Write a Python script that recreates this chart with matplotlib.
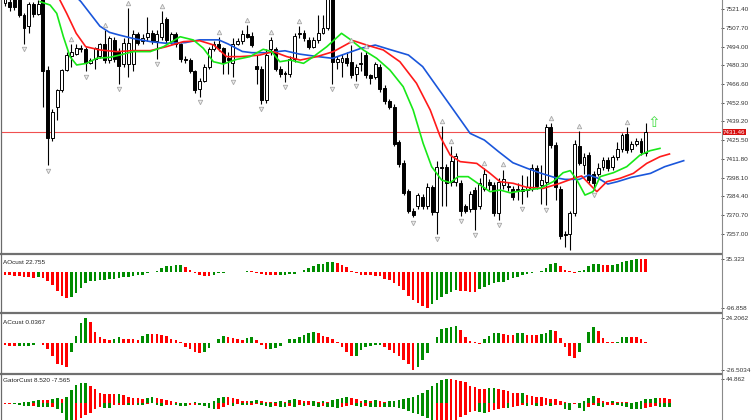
import numpy as np
import matplotlib.pyplot as plt
from matplotlib.lines import Line2D
from matplotlib.transforms import offset_copy

plt.rcParams['font.family'] = ['Liberation Sans', 'DejaVu Sans']

# ---- candles ----
opens = [7526, 7527, 7532, 7530, 7517, 7509, 7525, 7518, 7530, 7477,
         7427, 7450, 7462, 7477, 7487, 7489, 7493, 7492, 7482, 7485,
         7487, 7496, 7484, 7499, 7491, 7481, 7481, 7481, 7503, 7498,
         7501, 7504, 7498, 7501, 7514, 7498, 7503, 7496, 7485, 7484,
         7476, 7463, 7469, 7479, 7492, 7496, 7493, 7486, 7482, 7496,
         7498, 7503, 7502, 7480, 7478, 7455, 7492, 7492, 7478, 7475,
         7474, 7485, 7503, 7504, 7499, 7494, 7499, 7504, 7508, 7530,
         7483, 7483, 7486, 7483, 7474, 7481, 7488, 7473, 7472, 7479,
         7464, 7454, 7450, 7424, 7409, 7388, 7374, 7377, 7384, 7377,
         7391, 7373, 7406, 7406, 7395, 7395, 7394, 7377, 7375, 7389,
         7377, 7390, 7395, 7393, 7372, 7393, 7392, 7390, 7389, 7388,
         7389, 7390, 7405, 7393, 7395, 7435, 7422, 7390, 7357, 7357,
         7372, 7421, 7407, 7415, 7401, 7401, 7406, 7411, 7406, 7413,
         7419, 7430, 7419, 7423, 7425, 7416]
highs = [7536, 7530, 7536, 7534, 7519, 7527, 7527, 7528, 7534, 7480,
         7448, 7463, 7478, 7490, 7496, 7496, 7495, 7494, 7486, 7494,
         7497, 7506, 7502, 7501, 7493, 7500, 7522, 7506, 7505, 7503,
         7516, 7506, 7506, 7520, 7516, 7505, 7505, 7497, 7487, 7486,
         7477, 7471, 7481, 7494, 7498, 7501, 7494, 7490, 7500, 7500,
         7506, 7510, 7505, 7488, 7480, 7492, 7501, 7494, 7480, 7476,
         7487, 7504, 7509, 7506, 7501, 7501, 7517, 7517, 7535, 7535,
         7487, 7489, 7490, 7495, 7481, 7490, 7491, 7474, 7483, 7481,
         7466, 7456, 7452, 7426, 7411, 7390, 7376, 7387, 7386, 7394,
         7393, 7410, 7436, 7408, 7421, 7416, 7396, 7379, 7388, 7391,
         7398, 7405, 7397, 7395, 7398, 7404, 7395, 7392, 7394, 7400,
         7399, 7408, 7407, 7407, 7437, 7438, 7424, 7392, 7359, 7374,
         7426, 7432, 7416, 7417, 7403, 7409, 7413, 7413, 7415, 7424,
         7431, 7435, 7425, 7427, 7427, 7438]
lows = [7524, 7520, 7521, 7516, 7496, 7504, 7516, 7517, 7450, 7407,
        7425, 7440, 7461, 7476, 7479, 7488, 7490, 7476, 7481, 7478,
        7486, 7482, 7482, 7483, 7467, 7479, 7472, 7476, 7495, 7496,
        7498, 7496, 7485, 7499, 7497, 7496, 7494, 7483, 7482, 7475,
        7460, 7457, 7468, 7478, 7491, 7491, 7474, 7474, 7472, 7495,
        7496, 7500, 7494, 7467, 7452, 7453, 7488, 7476, 7472, 7468,
        7472, 7483, 7500, 7498, 7492, 7493, 7497, 7503, 7506, 7467,
        7478, 7472, 7480, 7471, 7469, 7476, 7471, 7467, 7470, 7461,
        7452, 7448, 7421, 7406, 7385, 7372, 7369, 7375, 7375, 7375,
        7371, 7357, 7377, 7377, 7392, 7392, 7370, 7372, 7373, 7360,
        7375, 7388, 7389, 7370, 7367, 7390, 7388, 7382, 7382, 7379,
        7384, 7388, 7390, 7379, 7378, 7420, 7382, 7353, 7347, 7345,
        7370, 7407, 7401, 7394, 7389, 7399, 7404, 7403, 7404, 7411,
        7417, 7416, 7417, 7421, 7415, 7414]
closes = [7531, 7523, 7523, 7517, 7508, 7525, 7518, 7525, 7476, 7427,
          7446, 7462, 7477, 7488, 7490, 7493, 7492, 7482, 7484, 7493,
          7496, 7484, 7500, 7485, 7480, 7497, 7497, 7503, 7497, 7500,
          7504, 7498, 7503, 7511, 7499, 7503, 7496, 7485, 7484, 7476,
          7462, 7469, 7479, 7492, 7496, 7493, 7482, 7484, 7496, 7498,
          7503, 7501, 7495, 7478, 7455, 7488, 7499, 7478, 7474, 7474,
          7485, 7502, 7504, 7500, 7494, 7499, 7504, 7508, 7530, 7483,
          7485, 7486, 7482, 7473, 7479, 7482, 7473, 7471, 7481, 7463,
          7454, 7450, 7423, 7408, 7387, 7374, 7371, 7385, 7377, 7391,
          7373, 7406, 7405, 7394, 7410, 7414, 7374, 7374, 7386, 7375,
          7394, 7401, 7393, 7372, 7395, 7397, 7391, 7384, 7389.5, 7390,
          7391, 7405, 7392, 7396, 7435, 7422, 7391, 7355, 7356, 7372,
          7423, 7409, 7413, 7396, 7394, 7405, 7411, 7405, 7413, 7419,
          7429, 7418, 7423, 7425, 7417, 7431.46]
last_price = 7431.46

fractal_up = [14, 21, 26, 33, 45, 51, 56, 62, 73, 76, 92, 94, 101, 105, 115, 121, 131]
fractal_down = [4, 9, 17, 24, 32, 41, 48, 54, 59, 69, 74, 86, 91, 96, 99, 104, 109, 114, 124]

# ---- alligator lines (bar position, price) ----
jaw_bar = [14, 16, 18, 20, 22, 24, 27, 31, 34, 38, 41, 45, 47, 50, 52, 55, 59, 62, 66, 69,
           71, 75, 78, 81, 85, 88, 91, 94, 96, 98, 101, 104, 107, 110, 113, 116, 118, 121,
           123, 125, 127, 129, 132, 136, 139, 143]
jaw_val = [7534, 7527, 7518, 7509, 7504.5, 7502.6, 7500, 7497.5, 7496.5, 7497, 7499, 7499,
           7496, 7490.5, 7489.6, 7489.6, 7491, 7488.6, 7486.7, 7485.5, 7487.9, 7492.8, 7495.2,
           7492, 7487.9, 7479.4, 7464.7, 7450.1, 7440.3, 7430.5, 7425.6, 7417.1, 7409, 7404.9,
           7401.2, 7398, 7396.8, 7396.8, 7400, 7397.6, 7393.4, 7395.1, 7398.3, 7401.2, 7406.1,
           7410.5]
teeth_bar = [11, 13, 15, 17, 20, 23.5, 27, 30.6, 34, 37.6, 41, 44, 46.7, 49.5, 51.6, 53.7,
             56.5, 59.4, 62.2, 65.7, 69.2, 73.4, 76.2, 79.7, 83.2, 86.7, 89.6, 91.7, 93.8,
             95.9, 99.4, 102.2, 104.3, 107.1, 109.9, 113.4, 116.9, 119.8, 121.5, 123.3,
             124.7, 126.8, 129.6, 132.4, 135.2, 138, 140]
teeth_val = [7532, 7518.4, 7503.8, 7494, 7491.6, 7490.4, 7491.1, 7491.1, 7494, 7497.7, 7498.4,
             7495.2, 7486.7, 7486.7, 7487.2, 7487.9, 7490.4, 7486.7, 7484.2, 7486.7, 7490.4,
             7498.4, 7495.2, 7491.6, 7483, 7467.2, 7447.6, 7428.1, 7414.6, 7409.8, 7408.5,
             7401.2, 7395.1, 7393.9, 7391, 7390.2, 7393.9, 7397.6, 7399.3, 7392.7, 7387.8,
             7395.1, 7397.6, 7401.2, 7408.5, 7413.4, 7415.4]
lips_bar = [7.4, 9.5, 10.9, 12.3, 13.7, 15.1, 17.2, 19.3, 22.1, 24.2, 27, 30.6, 33.4, 36.9,
            39.7, 41.8, 43.9, 46, 48.8, 51.6, 54.4, 56.2, 57.9, 60.1, 62.9, 65, 67.8, 70.9,
            72.7, 75.5, 78.3, 81.1, 83.9, 86, 88.1, 89.9, 92, 93.8, 95.5, 97.6, 100.1, 102.2,
            104.3, 106.4, 109.9, 112.7, 115.5, 117.6, 119.1, 120.5, 122.2, 123.9, 125.4,
            128.2, 131, 133.8, 135.9, 138]
lips_val = [7527, 7524.5, 7518.4, 7501.3, 7486.7, 7480.6, 7481.8, 7485.5, 7486.2, 7487.9,
            7490.4, 7490.4, 7494, 7501.3, 7498.9, 7492.8, 7483, 7481.3, 7484.7, 7486.7,
            7492.1, 7490.4, 7483, 7484.2, 7481.8, 7486.7, 7494, 7503.8, 7499.4, 7491.6,
            7485.5, 7476.9, 7464.7, 7447.6, 7423.2, 7406.1, 7396.3, 7394.4, 7398.8, 7398.8,
            7392.7, 7387.8, 7389, 7387, 7389, 7390.2, 7395.1, 7401.7, 7403.2, 7396.3,
            7385.3, 7387.8, 7398.8, 7401.7, 7406.1, 7414.6, 7417.8, 7419.5]

# ---- oscillators ----
ao_vals = [-8, -9, -10, -11, -12.5, -14, -16, -14, -16, -25, -34, -50, -63, -69, -67, -55,
           -42, -30, -25, -23.5, -22.5, -21, -20, -19, -16.5, -14, -12.5, -10.5, -9, -8,
           -2.5, -0.8, 1.5, 9, 14.5, 16, 16.8, 17.5,
           11.5, 4, -4, -8, -9.8, -10.2, -7.5, -4, -2.2, -1.5, -1, -0.5, 0.5, 3.5,
           2.5, -3.9, -6.5, -8, -9, -9.5, -8, -7.5, -6.5, -5.5, -0.5, 4.5, 11, 16.5, 20,
           21.5, 25, 27, 23.5, 17.5, 11.5, 3, -4, -7.5, -9, -9.5, -10,
           -11, -19, -22.5, -29, -38, -49, -63, -76, -84, -90, -96.8, -86, -76, -66, -59,
           -53, -48, -50, -52, -52.5, -53, -46, -40.5, -35, -30, -27.5, -26, -22, -17, -13,
           -9.5, -6.5, -4, -0.5, 2, 9.5, 20, 23, 16.5, 6, 1, -2, 2, 5, 15, 20, 21, 18.5,
           17.5, 18.5, 20.5, 25, 29, 32, 35.3, 34.6, 33.5]
ac_vals = [-2.5, -3.1, -3.4, -3.3, -3.2, -3.0, -2.5, -0.5, -2.5, -6.4, -13.2, -20.4, -22,
           -23.7, -9.0, 6.4, 18.8, 24.2, 19.4, 10.6, 5.1, 3.1, 2.5, 3.1, 5.7, 3.8, 3.1, 3.0,
           2.8, 6.4, 8.3, 8.2, 8.0, 7.7, 6.4, 3.8, 2.5, 0.2, -4.1, -6.7, -9.0, -10.6,
           -9.0, -5.7, -0.8, 3.1, 6.4, 5.1, 4.1, 3.1, 2.5, 4.1, 5.1, 2.5, -2.5, -6.7,
           -6.5, -5.7, -3.4, -0.2, 3.1, 3.8, 5.7, 7.4, 9.6, 10.6, 9.0, 6.4, 5.7, 3.1, 0.5,
           -4.1, -9.0, -13.2, -13.0, -7.4, -4.1, -3.4, -2.5,
           -2.3, -4.1, -7.4, -10.0, -13.2, -17.2, -20.4, -26.5, -23.7, -17.2, -10.0, -0.2,
           5.1, 12.9, 14.5, 15.5, 15.6, 12.3, 5.1, 1.8, 0.3, -1.8, 3.1, 6.4, 9.0, 9.1, 8.0,
           7.4, 7.2, 9.0, 9.1, 7.4, 7.0, 6.9, 8.0, 9.0, 12.3, 11.6, 4.1, -4.1, -13.2, -15.5,
           -9.0, -0.5, 10.6, 14.9, 11.6, 4.1, 0.5, 0.2, 0.6, 5.1, 5.7, 5.6, 5.1, 3.1, 0.0367]
gator_up = [1.3, 0.8, 0.5, 1.2, 1.9, 3.1, 5.0, 6.2, 6.1, 6.0, 7.5, 9.3, 7.5, 12.4, 24.9,
            34.2, 37.3, 37.9, 32.3, 26.1, 19.9, 17.4, 16.8, 16.7, 17.4, 14.9, 12.4, 10.6,
            9.3, 8.1, 9.9, 11.2, 9.3, 7.5, 6.2, 5.0, 3.1, 1.2, 0.6, 1.2, 2.5, 1.2, 0.3, 1.2,
            5.0, 9.3, 12.4, 11.2, 9.3, 7.5, 5.0, 3.7, 5.0, 6.2, 5.0, 3.1, 3.0, 3.1, 4.3, 3.1,
            6.2, 7.5, 6.2, 5.0, 3.7, 5.0, 3.1, 5.0, 3.1, 6.2, 7.5, 9.3, 11.2, 9.3, 7.5, 5.0,
            6.2, 5.0, 6.2, 5.0,
            3.1, 4.3, 5.0, 6.2, 7.5, 9.3, 12.4, 14.9, 18.7, 24.9, 31.1, 37.3, 42.3, 44.862,
            44.5, 43.5, 40.4, 38.6, 32.3, 29.9, 26.1, 25.9, 27.4, 28.6, 26.1, 24.9, 21.8,
            19.9, 18.7, 19.9, 15.5, 13.7, 12.4, 11.2, 9.9, 8.7, 7.5, 5.0, 3.1, 1.2, 0.3, 1.2,
            5.0, 9.3, 13.7, 9.3, 5.0, 3.1, 4.3, 2.5, 1.9, 1.8, 1.2, 2.5, 5.0, 7.5, 8.7, 9.9,
            9.6, 9.3, 8.52]
gator_down = [-1.2, -1.2, -1.3, -3.7, -5.0, -5.1, -4.5, -6.2, -6.3, -7.5, -7.0, -11.2, -18.7,
              -29.9, -31.1, -30.5, -27.4, -21.8, -18.7, -11.2, -7.5, -8.0, -8.3, -3.1, -3.0,
              -2.9, -3.7, -2.5, -3.1, -3.2, -1.2, -0.3, -3.1, -5.0, -3.7, -3.1, -3.7, -4.3,
              -5.0, -3.7, -2.5, -3.7, -5.0, -9.3, -11.2, -10.8, -7.5, -3.7, -4.3, -1.2, -2.5,
              -3.1, -2.5, -1.9, -3.7, -5.0, -6.2, -5.0, -6.2, -7.5, -5.0, -6.2, -3.7, -5.0,
              -3.1, -5.0, -7.5, -5.0, -6.2, -7.5, -9.3, -7.5, -5.0, -3.1, -5.0, -6.2, -5.0,
              -6.2, -7.5, -6.2,
              -6.3, -7.5, -7.6, -9.3, -11.2, -13.7, -17.4, -19.9, -23.6, -28.0, -31.1, -31.0,
              -30.9, -30.8, -30.7, -30.6, -24.9, -21.8, -15.5, -13.7, -15.5, -17.4, -15.5,
              -12.4, -11.2, -9.3, -9.4, -6.2, -5.0, -3.7, -5.0, -3.7, -5.0, -5.0, -3.7, -5.0,
              -3.7, -2.5, -11.2, -12.4, -1.2, -9.3, -13.7, -6.2, -3.7, -5.0, -6.2, -3.7, -2.5,
              -3.7, -5.0, -7.5, -9.9, -11.2, -11.3, -9.3, -7.5, -5.0, -6.0, -6.8, -7.565]

price_ticks = [7521.40, 7507.70, 7494.00, 7480.30, 7466.60, 7452.90, 7439.20, 7425.50,
               7411.80, 7398.10, 7384.40, 7370.70, 7357.00]

W, H = 752, 420
fig = plt.figure(figsize=(W / 100, H / 100), dpi=100)
XLIM = (-0.632, 150.86)
GREEN, RED = '#008c00', '#ff0000'
FS = 4.6


def px_axes(top, bottom, left=2, right=721):
    ax = fig.add_axes([left / W, 1 - bottom / H, (right - left) / W, (bottom - top) / H])
    ax.set_xlim(*XLIM)
    for s in ('top', 'bottom', 'left', 'right'):
        ax.spines[s].set_visible(False)
    ax.set_xticks([])
    ax.yaxis.tick_right()
    ax.tick_params(axis='y', labelsize=FS, length=2.5, width=0.6, pad=1, colors='#333333')
    return ax


def trend_colors(vals, use_abs=False):
    v = np.abs(vals) if use_abs else np.asarray(vals)
    up = np.r_[False, v[1:] > v[:-1]]
    return np.where(up, GREEN, RED)


# ---- main price window ----
ax = px_axes(0, 252)
ax.set_ylim(7343.6, 7528.2)
o, hi, lo, c = map(np.asarray, (opens, highs, lows, closes))
idx = np.arange(len(o))
bull = c >= o
body_lo = np.minimum(o, c)
body_h = np.maximum(np.abs(c - o), 0.5)
ax.vlines(idx, lo, hi, color='black', lw=0.8, zorder=2)
ax.bar(idx[bull], body_h[bull], bottom=body_lo[bull], width=0.62, color='white',
       edgecolor='black', linewidth=0.7, zorder=3)
ax.bar(idx[~bull], body_h[~bull], bottom=body_lo[~bull], width=0.62, color='black',
       edgecolor='black', linewidth=0.7, zorder=3)

up_tr = offset_copy(ax.transData, fig=fig, y=3.8, units='points')
dn_tr = offset_copy(ax.transData, fig=fig, y=-3.8, units='points')
ax.plot(fractal_up, hi[fractal_up], ls='none', marker='^', ms=3.2, mfc='#eeeeee',
        mec='#a8a8a8', mew=0.6, transform=up_tr, zorder=5)
ax.plot(fractal_down, lo[fractal_down], ls='none', marker='v', ms=3.2, mfc='#eeeeee',
        mec='#a8a8a8', mew=0.6, transform=dn_tr, zorder=5)

ax.plot(jaw_bar, jaw_val, color='#1a56db', lw=1.2, zorder=4, solid_joinstyle='round')
ax.plot(teeth_bar, teeth_val, color='#ff1a1a', lw=1.2, zorder=4, solid_joinstyle='round')
ax.plot(lips_bar, lips_val, color='#18e818', lw=1.2, zorder=4, solid_joinstyle='round')

ax.axhline(last_price, color='#f05050', lw=0.8, zorder=1)
ax.set_yticks(price_ticks)
ax.set_yticklabels([f'{t:.2f}' for t in price_ticks])
ax.text(1.002, last_price, f'{last_price:.2f}', transform=ax.get_yaxis_transform(),
        fontsize=4.4, color='white', va='center', ha='left', clip_on=False, zorder=10,
        bbox=dict(facecolor='#d81010', edgecolor='none', pad=0.6))
ax.text(136.8, 7438.5, '\u21e7', color='#44dd44', fontsize=11, ha='center', va='center',
        family='DejaVu Sans', zorder=6)

# ---- AO ----
ax_ao = px_axes(256, 311)
ax_ao.set_ylim(-104, 42)
ax_ao.bar(np.arange(len(ao_vals)), ao_vals, width=0.55, color=trend_colors(ao_vals))
ax_ao.set_yticks([35.323, -96.858])
ax_ao.set_yticklabels(['35.323', '-96.858'])
ax_ao.text(0.002, 0.93, 'AOcust 22.755', transform=ax_ao.transAxes, fontsize=FS,
           va='top', ha='left', color='#222222')

# ---- AC ----
ax_ac = px_axes(316, 372)
ax_ac.set_ylim(-28.6, 25.7)
ax_ac.bar(np.arange(len(ac_vals)), ac_vals, width=0.55, color=trend_colors(ac_vals))
ax_ac.set_yticks([24.2062, -26.5034])
ax_ac.set_yticklabels(['24.2062', '-26.5034'])
ax_ac.text(0.002, 0.93, 'ACcust 0.0367', transform=ax_ac.transAxes, fontsize=FS,
           va='top', ha='left', color='#222222')

# ---- Gator ----
ax_g = px_axes(376, 420)
ax_g.set_ylim(-30.8, 50.4)
gx = np.arange(len(gator_up))
ax_g.bar(gx, gator_up, width=0.55, color=trend_colors(gator_up))
ax_g.bar(gx, gator_down, width=0.55, color=trend_colors(gator_down, use_abs=True))
ax_g.set_yticks([44.862])
ax_g.set_yticklabels(['44.862'])
ax_g.text(0.002, 0.95, 'GatorCust 8.520 -7.565', transform=ax_g.transAxes, fontsize=FS,
          va='top', ha='left', color='#222222')

# ---- window frame: separators and borders ----
for y in (254, 313, 374):
    fig.add_artist(Line2D([0, 721 / W], [1 - y / H] * 2, color='#707070', lw=1.6))
fig.add_artist(Line2D([721.5 / W] * 2, [0, 1], color='#8a8a8a', lw=0.8))
fig.add_artist(Line2D([1.5 / W] * 2, [0, 1], color='#6a6a6a', lw=0.9))

fig.savefig('out.png', dpi=100, facecolor='white')
